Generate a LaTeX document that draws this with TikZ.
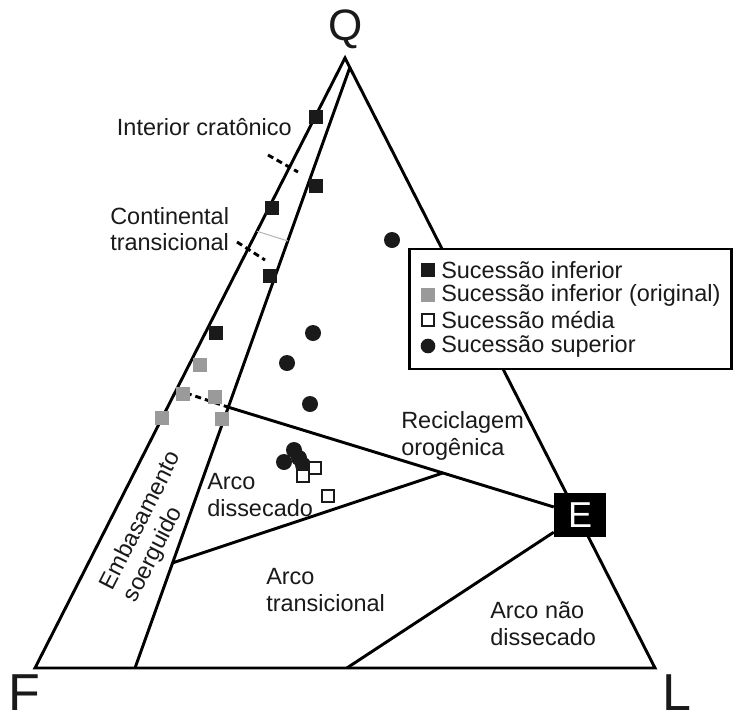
\documentclass[tikz,border=0pt]{standalone}
\usepackage{fontspec}
\setmainfont{Liberation Sans}
\usepackage{tikz}
\usetikzlibrary{calc, positioning}
\definecolor{QInk}{HTML}{1A1A1A}
\definecolor{QGray}{HTML}{9A9A9A}
\definecolor{QThin}{HTML}{B8B8B8}

\begin{document}
\begin{tikzpicture}[
  x=0.75pt, y=-0.75pt,
  font=\fontsize{17.6}{20}\selectfont,
  edge/.style={draw=black, line width=2.2pt, line join=miter},
  tick/.style={edge, dash pattern=on 4.5pt off 3pt},
  lbl/.style={text=QInk, align=left, inner sep=0pt},
  vtx/.style={text=QInk, inner sep=0pt},
  ebox/.style={rectangle, fill=black, text=white, inner sep=0pt,
               minimum width=39pt, minimum height=33pt,
               font=\fontsize{27}{30}\selectfont},
  keybox/.style={rectangle, draw=black, line width=2.2pt, fill=white,
                 minimum width=242pt, minimum height=90pt, inner sep=0pt},
  sqb/.style={rectangle, fill=QInk, minimum size=11pt, inner sep=0pt},
  sqg/.style={rectangle, fill=QGray, minimum size=10.5pt, inner sep=0pt},
  sqo/.style={rectangle, draw=QInk, fill=white, line width=1.5pt,
              minimum size=8.5pt, inner sep=0pt},
  dot/.style={circle, fill=QInk, minimum size=12pt, inner sep=0pt},
]
\fill[white] (0,0) rectangle (737,715);
\useasboundingbox (0,0) rectangle (737,715);

% corners of the diagram
\coordinate (Q) at (345,58);
\coordinate (F) at (35,668);
\coordinate (L) at (655,668);
\coordinate (qi) at (350,67);
\coordinate (fi) at (135,668);
\coordinate (jn) at ($(fi)!0.434!(qi)$);
\coordinate (ad) at ($(fi)!0.175!(qi)$);
\coordinate (fj) at ($(F)!0.456!(Q)$);
\coordinate (fb) at ($(F)!0.503!(L)$);

\draw[edge] (F) -- (Q) -- (L) -- cycle;
\draw[edge] (qi) -- (fi);

\node[ebox] (E) at (580,515) {E};
\coordinate (ea) at ($(jn)!0.61!(E)$);
\draw[edge] (jn) -- (E);
\draw[edge] (E) -- (fb);
\draw[edge] (ad) -- (ea);
\draw[tick] (fj) -- (jn);

% field limits on the left side
\coordinate (t1a) at (268,155);
\coordinate (t1b) at (298,172);
\coordinate (t2a) at (237,242);
\coordinate (t2b) at (265,260);
\draw[tick] (t1a) -- (t1b);
\draw[tick] (t2a) -- (t2b);
\coordinate (ga) at ($(F)!0.716!(Q)$);
\coordinate (gb) at ($(fi)!0.7105!(qi)$);
\draw[QThin, line width=0.8pt] (ga) -- (gb);

% fields
\node[lbl, anchor=east] (crat) at (292,127) {Interior cratônico};
\node[lbl, anchor=west] (cont) at (110,229) {Continental\\transicional};
\node[lbl, anchor=west] (adis) at (207,495) {Arco\\dissecado};
\node[lbl, anchor=west] (reci) at (401,436) {Reciclagem\\orogênica};
\node[lbl, anchor=west] (atra) at (266,590) {Arco\\transicional};
\node[lbl, anchor=west] (andi) at (490,624) {Arco não\\dissecado};
\node[lbl, rotate=63] (emba) at (153,527) {Embasamento\\soerguido};

\node[vtx, font=\fontsize{33}{36}\selectfont] (lq) at (346,29) {Q};
\node[vtx, font=\fontsize{39}{42}\selectfont] (lf) at (24,693) {F};
\node[vtx, font=\fontsize{39}{42}\selectfont] (ll) at (677,693) {L};

% samples
\node[sqb] (b1) at (316,117) {};
\node[sqb] (b2) at (316,186) {};
\node[sqb] (b3) at (272,208) {};
\node[sqb] (b4) at (270,276) {};
\node[sqb] (b5) at (216,333) {};
\node[sqg] (g1) at (200,365) {};
\node[sqg] (g2) at (183,394) {};
\node[sqg] (g3) at (215,397) {};
\node[sqg] (g4) at (162,418) {};
\node[sqg] (g5) at (222,419) {};
\node[dot] (c1) at (392,240) {};
\node[dot] (c2) at (313,333) {};
\node[dot] (c3) at (287,363) {};
\node[dot] (c4) at (310,404) {};
\node[dot] (c5) at (294,450) {};
\node[dot] (c6) at (284,462) {};
\node[dot] (c7) at (299,458) {};
\node[dot] (c8) at (303,465) {};
\node[sqo] (o1) at (315,468) {};
\node[sqo] (o2) at (303,476) {};
\node[sqo] (o3) at (328,496) {};

% legend
\node[keybox] (key) at (570.5,309) {};
\node[sqb] (kb) at (428,270) {};
\node[sqg] (kg) at (428,295) {};
\node[sqo] (ko) at (428,320) {};
\node[dot, minimum size=11pt] (kc) at (428,346) {};
\node[lbl, anchor=west] (tb) at (441,270) {Sucessão inferior};
\node[lbl, anchor=west] (tg) at (441,295) {Sucessão inferior (original)};
\node[lbl, anchor=west] (to) at (441,320) {Sucessão média};
\node[lbl, anchor=west] (tc) at (441,346) {Sucessão superior};
\end{tikzpicture}
\end{document}
